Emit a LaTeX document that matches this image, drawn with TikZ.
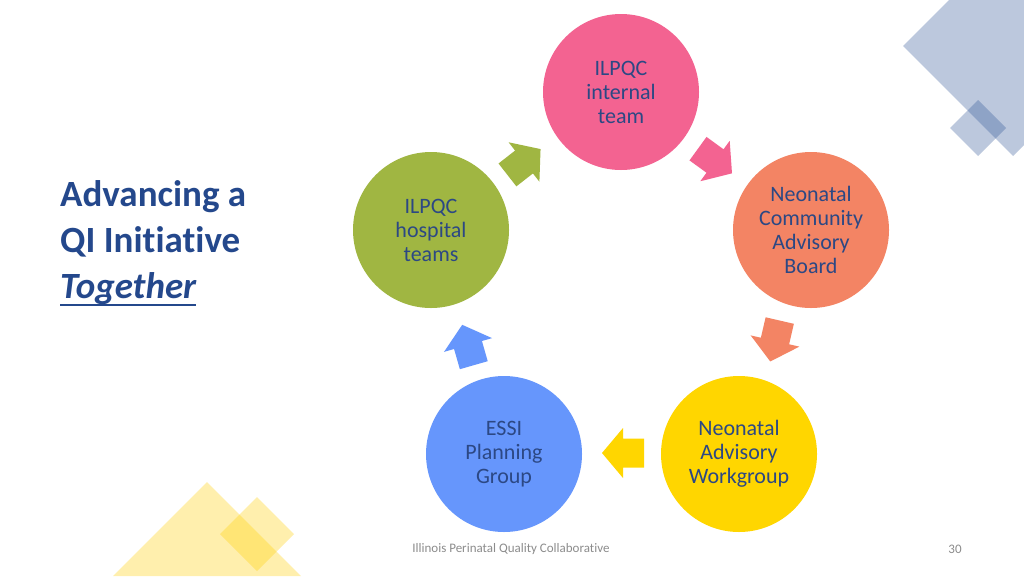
\documentclass[tikz,border=0pt]{standalone}
\usepackage{fontspec}
\setmainfont[Ligatures=NoCommon]{Carlito}
\definecolor{cpink}{RGB}{243,99,145}
\definecolor{csalmon}{RGB}{243,132,100}
\definecolor{cyellow}{RGB}{255,214,0}
\definecolor{cblue}{RGB}{102,150,252}
\definecolor{cgreen}{RGB}{160,182,66}
\definecolor{ctext}{RGB}{44,72,132}
\definecolor{ctitle}{RGB}{36,72,140}
\definecolor{decoblue}{RGB}{47,85,151}
\definecolor{decogold}{RGB}{255,208,0}
\definecolor{cfoot}{RGB}{140,140,140}
\begin{document}
\begin{tikzpicture}[x=1pt,y=-1pt,
  bubble/.style={circle,minimum size=156pt,inner sep=0pt,text=ctext,align=center,
    font=\fontsize{22}{24}\selectfont},
  titletext/.style={anchor=base west,text=ctitle,inner sep=0pt,
    font=\fontsize{37}{46}\selectfont\bfseries},
  deco/.style={fill opacity=0.32}]
\useasboundingbox (0,0) rectangle (1024,576);
\fill[white] (0,0) rectangle (1024,576);
% decorations
\begin{scope}
\clip (0,0) rectangle (1024,576);
\fill[decoblue,deco] (903,46) -- (1013,-64) -- (1123,46) -- (1013,156) -- cycle;
\fill[decoblue,deco] (950,128) -- (978,100) -- (1006,128) -- (978,156) -- cycle;
\fill[decogold,deco] (113,576) -- (207,482) -- (301,576) -- cycle;
\fill[decogold,deco] (220,534) -- (257,497) -- (294,534) -- (257,571) -- cycle;
\end{scope}
% circles
\node[bubble,fill=cpink] (int) at (621,92) {ILPQC\\internal\\team};
\node[bubble,fill=csalmon] (ncab) at (811,230) {Neonatal\\Community\\Advisory\\Board};
\node[bubble,fill=cyellow] (naw) at (739,454) {Neonatal\\Advisory\\Workgroup};
\node[bubble,fill=cblue] (essi) at (504,454) {ESSI\\Planning\\Group};
\node[bubble,fill=cgreen] (hosp) at (431,230) {ILPQC\\hospital\\teams};
% block arrows
\foreach \cx/\cy/\ang/\col in {524/162/38/cgreen, 715/161/-36/cpink, 775/341/-103/csalmon, 623/453/180/cyellow, 468/345/106/cblue}{
  \begin{scope}[shift={(\cx,\cy)},rotate=\ang]
    \fill[\col] (-21,-14.5) -- (0,-14.5) -- (0,-25) -- (21,0) -- (0,25) -- (0,14.5) -- (-21,14.5) -- cycle;
  \end{scope}
}
% title
\node[titletext] (t1) at (60,206) {Advancing a};
\node[titletext] (t2) at (60,252) {QI Initiative};
\node[titletext,font=\fontsize{37}{46}\selectfont\bfseries\itshape] (t3) at (60,298) {Together};
\draw[ctitle,line width=2pt] ([yshift=-7pt]t3.base west) -- ([yshift=-7pt]t3.base east);
% footer
\node[text=cfoot,font=\fontsize{13}{15}\selectfont] (foot) at (511,549) {Illinois Perinatal Quality Collaborative};
\node[text=cfoot,font=\fontsize{13}{15}\selectfont] (page) at (955,549) {30};
\end{tikzpicture}
\end{document}
